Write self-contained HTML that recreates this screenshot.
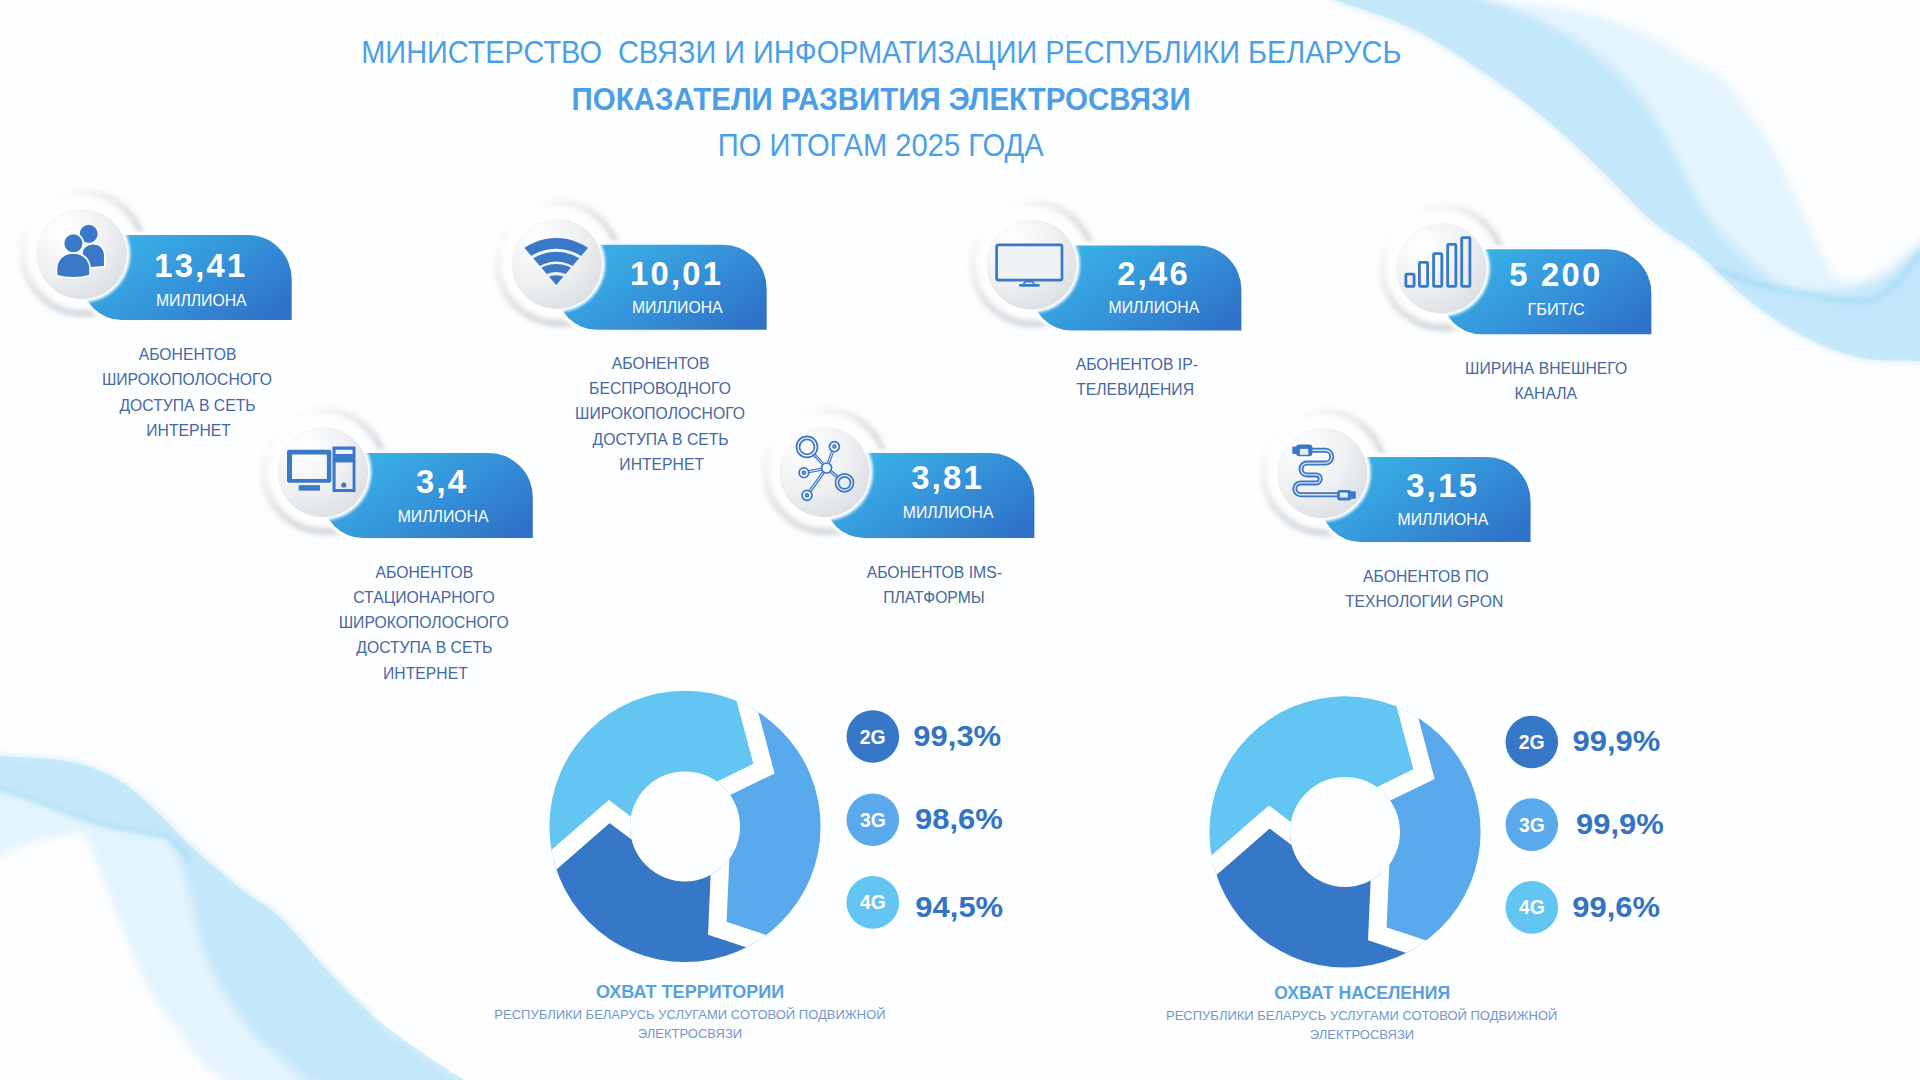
<!DOCTYPE html>
<html lang="ru"><head><meta charset="utf-8"><title>Показатели развития электросвязи</title>
<style>
html,body{margin:0;padding:0;width:1920px;height:1080px;overflow:hidden;background:#fdfeff;}
body{font-family:"Liberation Sans", sans-serif;}
svg{display:block;position:absolute;left:0;top:0;}
</style></head><body>
<svg width="1920" height="1080" viewBox="0 0 1920 1080"><defs>
<linearGradient id="pillg" x1="0.05" y1="0.2" x2="1" y2="0.75">
  <stop offset="0" stop-color="#39b3e7"/>
  <stop offset="0.5" stop-color="#3595da"/>
  <stop offset="1" stop-color="#2f73c8"/>
</linearGradient>
<radialGradient id="sphg" cx="0.3" cy="0.25" r="0.85">
  <stop offset="0" stop-color="#ffffff"/>
  <stop offset="0.55" stop-color="#eef0f2"/>
  <stop offset="1" stop-color="#dcdfe2"/>
</radialGradient>
<linearGradient id="ringg" x1="0.15" y1="0.1" x2="0.85" y2="0.9">
  <stop offset="0" stop-color="#d6d9dc" stop-opacity="0"/>
  <stop offset="0.45" stop-color="#d6d9dc" stop-opacity="0.75"/>
  <stop offset="1" stop-color="#cfd3d6" stop-opacity="1"/>
</linearGradient>
<filter id="blur3" x="-30%" y="-30%" width="160%" height="160%"><feGaussianBlur stdDeviation="2.4"/></filter>
<filter id="blur2" x="-20%" y="-20%" width="140%" height="140%"><feGaussianBlur stdDeviation="1.6"/></filter>
<filter id="blur05" x="-20%" y="-20%" width="140%" height="140%"><feGaussianBlur stdDeviation="0.45"/></filter>
<filter id="blur1" x="-20%" y="-20%" width="140%" height="140%"><feGaussianBlur stdDeviation="0.7"/></filter>
<filter id="wblur" x="-50%" y="-50%" width="200%" height="200%"><feGaussianBlur stdDeviation="6"/></filter>
<filter id="wblur4" x="-50%" y="-50%" width="200%" height="200%"><feGaussianBlur stdDeviation="4"/></filter>
<filter id="wblur2" x="-50%" y="-50%" width="200%" height="200%"><feGaussianBlur stdDeviation="2.5"/></filter>

<linearGradient id="wtr" gradientUnits="userSpaceOnUse" x1="1560" y1="210" x2="1700" y2="40">
  <stop offset="0" stop-color="#8ed3f6" stop-opacity="0.62"/>
  <stop offset="0.5" stop-color="#9ad8f7" stop-opacity="0.45"/>
  <stop offset="1" stop-color="#b5e2f9" stop-opacity="0.12"/>
</linearGradient>
<linearGradient id="wbl" gradientUnits="userSpaceOnUse" x1="300" y1="900" x2="130" y2="1000">
  <stop offset="0" stop-color="#8ed3f6" stop-opacity="0.6"/>
  <stop offset="0.55" stop-color="#9ad8f7" stop-opacity="0.45"/>
  <stop offset="1" stop-color="#b5e2f9" stop-opacity="0.12"/>
</linearGradient>
</defs>
<g id="waves">
<clipPath id="wctr"><path d="M1320.0,-8.0 C1322.5,-6.7 1320.2,-5.8 1335.0,0.0 C1349.8,5.8 1385.5,15.8 1409.0,27.0 C1432.5,38.2 1453.8,52.2 1476.0,67.0 C1498.2,81.8 1521.7,99.3 1542.0,116.0 C1562.3,132.7 1579.5,149.3 1598.0,167.0 C1616.5,184.7 1636.7,207.8 1653.0,222.0 C1669.3,236.2 1679.7,238.7 1696.0,252.0 C1712.3,265.3 1732.5,287.7 1751.0,302.0 C1769.5,316.3 1788.5,328.7 1807.0,338.0 C1825.5,347.3 1843.2,354.2 1862.0,358.0 C1880.8,361.8 1908.7,360.5 1920.0,361.0 C1931.3,361.5 1928.3,361.0 1930.0,361.0 L1940,370 L1940,-20 L1310,-20 Z"/></clipPath>
<g clip-path="url(#wctr)">
<path d="M1320.0,-8.0 C1322.5,-6.7 1320.2,-5.8 1335.0,0.0 C1349.8,5.8 1385.5,15.8 1409.0,27.0 C1432.5,38.2 1453.8,52.2 1476.0,67.0 C1498.2,81.8 1521.7,99.3 1542.0,116.0 C1562.3,132.7 1579.5,149.3 1598.0,167.0 C1616.5,184.7 1636.7,207.8 1653.0,222.0 C1669.3,236.2 1679.7,238.7 1696.0,252.0 C1712.3,265.3 1732.5,287.7 1751.0,302.0 C1769.5,316.3 1788.5,328.7 1807.0,338.0 C1825.5,347.3 1843.2,354.2 1862.0,358.0 C1880.8,361.8 1908.7,360.5 1920.0,361.0 C1931.3,361.5 1928.3,361.0 1930.0,361.0 L1930.0,236.0 C1928.3,236.8 1929.0,234.7 1920.0,241.0 C1911.0,247.3 1889.3,267.5 1876.0,274.0 C1862.7,280.5 1849.7,284.5 1840.0,280.0 C1830.3,275.5 1825.8,261.8 1818.0,247.0 C1810.2,232.2 1801.8,209.5 1793.0,191.0 C1784.2,172.5 1776.7,154.5 1765.0,136.0 C1753.3,117.5 1733.8,91.5 1723.0,80.0 C1712.2,68.5 1713.5,74.8 1700.0,67.0 C1686.5,59.2 1662.7,42.3 1642.0,33.0 C1621.3,23.7 1601.8,16.5 1576.0,11.0 C1550.2,5.5 1504.7,3.2 1487.0,0.0 C1469.3,-3.2 1472.8,-6.7 1470.0,-8.0 Z" fill="#a6dcf7" opacity="0.3" filter="url(#wblur4)"/>
<path d="M1320.0,-8.0 C1322.5,-6.7 1320.2,-5.8 1335.0,0.0 C1349.8,5.8 1385.5,15.8 1409.0,27.0 C1432.5,38.2 1453.8,52.2 1476.0,67.0 C1498.2,81.8 1521.7,99.3 1542.0,116.0 C1562.3,132.7 1579.5,149.3 1598.0,167.0 C1616.5,184.7 1636.7,207.8 1653.0,222.0 C1669.3,236.2 1679.7,238.7 1696.0,252.0 C1712.3,265.3 1732.5,287.7 1751.0,302.0 C1769.5,316.3 1788.5,328.7 1807.0,338.0 C1825.5,347.3 1843.2,354.2 1862.0,358.0 C1880.8,361.8 1908.7,360.5 1920.0,361.0 C1931.3,361.5 1928.3,361.0 1930.0,361.0 L1930.0,240.0 C1928.3,241.2 1929.0,239.8 1920.0,247.0 C1911.0,254.2 1894.8,275.7 1876.0,283.0 C1857.2,290.3 1825.5,292.5 1807.0,291.0 C1788.5,289.5 1781.3,286.0 1765.0,274.0 C1748.7,262.0 1724.0,238.7 1709.0,219.0 C1694.0,199.3 1686.2,175.8 1675.0,156.0 C1663.8,136.2 1654.8,116.7 1642.0,100.0 C1629.2,83.3 1614.7,69.0 1598.0,56.0 C1581.3,43.0 1560.5,31.3 1542.0,22.0 C1523.5,12.7 1499.0,5.0 1487.0,0.0 C1475.0,-5.0 1472.8,-6.7 1470.0,-8.0 Z" fill="#8fd3f6" opacity="0.38" filter="url(#wblur4)"/>
</g>
<path d="M1320.0,-8.0 C1322.5,-6.7 1320.2,-5.8 1335.0,0.0 C1349.8,5.8 1385.5,15.8 1409.0,27.0 C1432.5,38.2 1453.8,52.2 1476.0,67.0 C1498.2,81.8 1521.7,99.3 1542.0,116.0 C1562.3,132.7 1579.5,149.3 1598.0,167.0 C1616.5,184.7 1636.7,207.8 1653.0,222.0 C1669.3,236.2 1679.7,238.7 1696.0,252.0 C1712.3,265.3 1732.5,287.7 1751.0,302.0 C1769.5,316.3 1788.5,328.7 1807.0,338.0 C1825.5,347.3 1843.2,354.2 1862.0,358.0 C1880.8,361.8 1908.7,360.5 1920.0,361.0 C1931.3,361.5 1928.3,361.0 1930.0,361.0" fill="none" stroke="#7ccbf3" stroke-width="4" opacity="0.3" filter="url(#wblur2)"/>
<path d="M1715.0,268.0 C1722.5,270.8 1744.7,280.7 1760.0,285.0 C1775.3,289.3 1790.0,291.2 1807.0,294.0 C1824.0,296.8 1847.3,303.5 1862.0,302.0 C1876.7,300.5 1885.3,293.3 1895.0,285.0 C1904.7,276.7 1915.8,257.5 1920.0,252.0" fill="none" stroke="#7ccbf3" stroke-width="5" opacity="0.35" filter="url(#wblur2)"/>
<clipPath id="wcbl"><path d="M-10.0,756.0 C-8.3,756.0 -13.7,755.0 0.0,756.0 C13.7,757.0 52.0,757.8 72.0,762.0 C92.0,766.2 105.8,772.7 120.0,781.0 C134.2,789.3 144.8,800.8 157.0,812.0 C169.2,823.2 179.0,835.2 193.0,848.0 C207.0,860.8 226.5,877.5 241.0,889.0 C255.5,900.5 265.8,903.7 280.0,917.0 C294.2,930.3 310.7,952.7 326.0,969.0 C341.3,985.3 355.0,1000.5 372.0,1015.0 C389.0,1029.5 412.5,1045.2 428.0,1056.0 C443.5,1066.8 456.3,1074.3 465.0,1080.0 C473.7,1085.7 477.5,1088.3 480.0,1090.0 L480,1100 L-20,1100 L-20,750 Z"/></clipPath>
<g clip-path="url(#wcbl)">
<path d="M-10.0,756.0 C-8.3,756.0 -13.7,755.0 0.0,756.0 C13.7,757.0 52.0,757.8 72.0,762.0 C92.0,766.2 105.8,772.7 120.0,781.0 C134.2,789.3 144.8,800.8 157.0,812.0 C169.2,823.2 179.0,835.2 193.0,848.0 C207.0,860.8 226.5,877.5 241.0,889.0 C255.5,900.5 265.8,903.7 280.0,917.0 C294.2,930.3 310.7,952.7 326.0,969.0 C341.3,985.3 355.0,1000.5 372.0,1015.0 C389.0,1029.5 412.5,1045.2 428.0,1056.0 C443.5,1066.8 456.3,1074.3 465.0,1080.0 C473.7,1085.7 477.5,1088.3 480.0,1090.0 L230.0,1090.0 C229.0,1088.3 228.2,1084.2 224.0,1080.0 C219.8,1075.8 214.0,1075.0 205.0,1065.0 C196.0,1055.0 180.0,1034.0 170.0,1020.0 C160.0,1006.0 153.3,997.5 145.0,981.0 C136.7,964.5 128.2,941.2 120.0,921.0 C111.8,900.8 102.0,874.2 96.0,860.0 C90.0,845.8 88.0,840.3 84.0,836.0 C80.0,831.7 80.0,833.2 72.0,834.0 C64.0,834.8 48.0,837.3 36.0,841.0 C24.0,844.7 7.7,852.8 0.0,856.0 C-7.7,859.2 -8.3,859.3 -10.0,860.0 Z" fill="#a6dcf7" opacity="0.3" filter="url(#wblur4)"/>
<path d="M-10.0,756.0 C-8.3,756.0 -13.7,755.0 0.0,756.0 C13.7,757.0 52.0,757.8 72.0,762.0 C92.0,766.2 105.8,772.7 120.0,781.0 C134.2,789.3 144.8,800.8 157.0,812.0 C169.2,823.2 179.0,835.2 193.0,848.0 C207.0,860.8 226.5,877.5 241.0,889.0 C255.5,900.5 265.8,903.7 280.0,917.0 C294.2,930.3 310.7,952.7 326.0,969.0 C341.3,985.3 355.0,1000.5 372.0,1015.0 C389.0,1029.5 412.5,1045.2 428.0,1056.0 C443.5,1066.8 456.3,1074.3 465.0,1080.0 C473.7,1085.7 477.5,1088.3 480.0,1090.0 L330.0,1090.0 C326.2,1088.3 313.8,1084.2 307.0,1080.0 C300.2,1075.8 299.7,1075.2 289.0,1065.0 C278.3,1054.8 256.5,1037.5 242.6,1019.0 C228.7,1000.5 214.9,977.2 205.6,954.0 C196.3,930.8 193.1,899.0 187.0,880.0 C180.9,861.0 176.0,848.0 169.0,840.0 C162.0,832.0 157.2,835.0 145.0,832.0 C132.8,829.0 114.2,827.3 96.0,822.0 C77.8,816.7 52.0,805.7 36.0,800.0 C20.0,794.3 7.7,790.3 0.0,788.0 C-7.7,785.7 -8.3,786.3 -10.0,786.0 Z" fill="#8fd3f6" opacity="0.38" filter="url(#wblur4)"/>
</g>
<path d="M-10.0,756.0 C-8.3,756.0 -13.7,755.0 0.0,756.0 C13.7,757.0 52.0,757.8 72.0,762.0 C92.0,766.2 105.8,772.7 120.0,781.0 C134.2,789.3 144.8,800.8 157.0,812.0 C169.2,823.2 179.0,835.2 193.0,848.0 C207.0,860.8 226.5,877.5 241.0,889.0 C255.5,900.5 265.8,903.7 280.0,917.0 C294.2,930.3 310.7,952.7 326.0,969.0 C341.3,985.3 364.3,1007.3 372.0,1015.0" fill="none" stroke="#7ccbf3" stroke-width="4" opacity="0.3" filter="url(#wblur2)"/>
<path d="M-10.0,786.0 C-8.3,786.3 -7.7,785.7 0.0,788.0 C7.7,790.3 20.0,794.3 36.0,800.0 C52.0,805.7 77.8,816.7 96.0,822.0 C114.2,827.3 132.8,829.3 145.0,832.0 C157.2,834.7 161.5,833.3 169.0,838.0 C176.5,842.7 186.5,856.3 190.0,860.0" fill="none" stroke="#7ccbf3" stroke-width="5" opacity="0.35" filter="url(#wblur2)"/>
</g>
<text transform="matrix(0.9194,0,0,1,361.29,63)" font-family='"Liberation Sans", sans-serif' font-size="31.44" fill="#4c9fe6" xml:space="preserve">МИНИСТЕРСТВО  СВЯЗИ И ИНФОРМАТИЗАЦИИ РЕСПУБЛИКИ БЕЛАРУСЬ</text>
<text transform="matrix(0.9380,0,0,1,571.58,109.9)" font-family='"Liberation Sans", sans-serif' font-size="31.44" font-weight="bold" fill="#4c9fe6" xml:space="preserve">ПОКАЗАТЕЛИ РАЗВИТИЯ ЭЛЕКТРОСВЯЗИ</text>
<text transform="matrix(0.9412,0,0,1,717.67,155.7)" font-family='"Liberation Sans", sans-serif' font-size="31.00" fill="#4c9fe6" xml:space="preserve">ПО ИТОГАМ 2025 ГОДА</text>
<circle cx="83.19999999999999" cy="253" r="60.5" fill="none" stroke="url(#ringg)" stroke-width="7" filter="url(#blur3)"/>
<path d="M81.69999999999999,235 L247.7,235 A44,44 0 0 1 291.7,279 L291.7,320 L121.69999999999999,320 A40,40 0 0 1 81.69999999999999,280 Z" fill="#ffffff" stroke="#ffffff" stroke-width="7" filter="url(#blur2)"/>
<path d="M81.69999999999999,235 L247.7,235 A44,44 0 0 1 291.7,279 L291.7,320 L121.69999999999999,320 A40,40 0 0 1 81.69999999999999,280 Z" fill="url(#pillg)"/>
<circle cx="81.69999999999999" cy="254" r="48.5" fill="#ffffff" filter="url(#blur2)"/>
<circle cx="81.69999999999999" cy="254" r="45.2" fill="url(#sphg)" filter="url(#blur05)"/>
<g transform="translate(0.19999999999998863,0)" fill="#3a78c8" stroke="#ffffff" stroke-width="1.7"><circle cx="88.5" cy="233.9" r="9.9"/><path d="M81.5,267.5 L81.5,254 C81.5,248 86,243.6 93,243.6 C100.5,243.6 104.6,249 104.6,256 L104.6,266.6 C98,267.8 90,268 81.5,267.5 Z"/><path d="M56.3,275.5 L56.3,269 C56.3,259.5 63,252.8 73,252.8 C83,252.8 89.9,259.5 89.9,269 L89.9,275.5 C80,278.6 66,278.6 56.3,275.5 Z"/><circle cx="73.2" cy="243.3" r="9.9"/></g>
<text transform="matrix(1.0000,0,0,1,154.29,276.7)" font-family='"Liberation Sans", sans-serif' font-size="32.75" font-weight="bold" letter-spacing="2.25" fill="#ffffff" xml:space="preserve">13,41</text>
<text transform="matrix(1.0041,0,0,1,155.89,306)" font-family='"Liberation Sans", sans-serif' font-size="15.72" fill="#ffffff" xml:space="preserve">МИЛЛИОНА</text>
<text transform="matrix(0.9400,0,0,1,138.74,360.0)" font-family='"Liberation Sans", sans-serif' font-size="16.74" fill="#44699f" xml:space="preserve">АБОНЕНТОВ</text>
<text transform="matrix(0.9400,0,0,1,101.88,385.3)" font-family='"Liberation Sans", sans-serif' font-size="16.74" fill="#44699f" xml:space="preserve">ШИРОКОПОЛОСНОГО</text>
<text transform="matrix(0.9400,0,0,1,119.46,410.6)" font-family='"Liberation Sans", sans-serif' font-size="16.74" fill="#44699f" xml:space="preserve">ДОСТУПА В СЕТЬ</text>
<text transform="matrix(0.9400,0,0,1,146.25,435.9)" font-family='"Liberation Sans", sans-serif' font-size="16.74" fill="#44699f" xml:space="preserve">ИНТЕРНЕТ</text>
<circle cx="558.2" cy="262.7" r="60.5" fill="none" stroke="url(#ringg)" stroke-width="7" filter="url(#blur3)"/>
<path d="M556.7,244.7 L722.7,244.7 A44,44 0 0 1 766.7,288.7 L766.7,329.7 L596.7,329.7 A40,40 0 0 1 556.7,289.7 Z" fill="#ffffff" stroke="#ffffff" stroke-width="7" filter="url(#blur2)"/>
<path d="M556.7,244.7 L722.7,244.7 A44,44 0 0 1 766.7,288.7 L766.7,329.7 L596.7,329.7 A40,40 0 0 1 556.7,289.7 Z" fill="url(#pillg)"/>
<circle cx="556.7" cy="263.7" r="48.5" fill="#ffffff" filter="url(#blur2)"/>
<circle cx="556.7" cy="263.7" r="45.2" fill="url(#sphg)" filter="url(#blur05)"/>
<clipPath id="wc556"><path d="M556.2,285.09999999999997 L510.74,231.87 L601.66,231.87 Z"/></clipPath>
<g clip-path="url(#wc556)" fill="#3a78c8">
<path fill-rule="evenodd" d="M499.20000000000005,295.09999999999997 A57,57 0 1 1 613.2,295.09999999999997 A57,57 0 1 1 499.20000000000005,295.09999999999997 Z M509.80000000000007,295.09999999999997 A46.4,46.4 0 1 1 602.6,295.09999999999997 A46.4,46.4 0 1 1 509.80000000000007,295.09999999999997 Z"/>
<path fill-rule="evenodd" d="M512.8000000000001,295.09999999999997 A43.4,43.4 0 1 1 599.6,295.09999999999997 A43.4,43.4 0 1 1 512.8000000000001,295.09999999999997 Z M522.7,295.09999999999997 A33.5,33.5 0 1 1 589.7,295.09999999999997 A33.5,33.5 0 1 1 522.7,295.09999999999997 Z"/>
<path fill-rule="evenodd" d="M525.1,295.09999999999997 A31.1,31.1 0 1 1 587.3000000000001,295.09999999999997 A31.1,31.1 0 1 1 525.1,295.09999999999997 Z M533.2,295.09999999999997 A23,23 0 1 1 579.2,295.09999999999997 A23,23 0 1 1 533.2,295.09999999999997 Z"/>
<circle cx="556.2" cy="295.09999999999997" r="19.9"/>
</g>
<text transform="matrix(1.0000,0,0,1,629.99,284.5)" font-family='"Liberation Sans", sans-serif' font-size="32.75" font-weight="bold" letter-spacing="2.25" fill="#ffffff" xml:space="preserve">10,01</text>
<text transform="matrix(1.0041,0,0,1,631.89,312.7)" font-family='"Liberation Sans", sans-serif' font-size="15.72" fill="#ffffff" xml:space="preserve">МИЛЛИОНА</text>
<text transform="matrix(0.9400,0,0,1,611.84,368.7)" font-family='"Liberation Sans", sans-serif' font-size="16.74" fill="#44699f" xml:space="preserve">АБОНЕНТОВ</text>
<text transform="matrix(0.9400,0,0,1,589.10,394.0)" font-family='"Liberation Sans", sans-serif' font-size="16.74" fill="#44699f" xml:space="preserve">БЕСПРОВОДНОГО</text>
<text transform="matrix(0.9400,0,0,1,574.98,419.3)" font-family='"Liberation Sans", sans-serif' font-size="16.74" fill="#44699f" xml:space="preserve">ШИРОКОПОЛОСНОГО</text>
<text transform="matrix(0.9400,0,0,1,592.56,444.6)" font-family='"Liberation Sans", sans-serif' font-size="16.74" fill="#44699f" xml:space="preserve">ДОСТУПА В СЕТЬ</text>
<text transform="matrix(0.9400,0,0,1,619.35,469.9)" font-family='"Liberation Sans", sans-serif' font-size="16.74" fill="#44699f" xml:space="preserve">ИНТЕРНЕТ</text>
<circle cx="1032.9" cy="263.5" r="60.5" fill="none" stroke="url(#ringg)" stroke-width="7" filter="url(#blur3)"/>
<path d="M1031.4,245.5 L1197.4,245.5 A44,44 0 0 1 1241.4,289.5 L1241.4,330.5 L1071.4,330.5 A40,40 0 0 1 1031.4,290.5 Z" fill="#ffffff" stroke="#ffffff" stroke-width="7" filter="url(#blur2)"/>
<path d="M1031.4,245.5 L1197.4,245.5 A44,44 0 0 1 1241.4,289.5 L1241.4,330.5 L1071.4,330.5 A40,40 0 0 1 1031.4,290.5 Z" fill="url(#pillg)"/>
<circle cx="1031.4" cy="264.5" r="48.5" fill="#ffffff" filter="url(#blur2)"/>
<circle cx="1031.4" cy="264.5" r="45.2" fill="url(#sphg)" filter="url(#blur05)"/>
<g transform="translate(0.0,0.0)" fill="none" stroke="#3a78c8"><rect x="996.6" y="244.9" width="65.4" height="35.2" rx="1.8" stroke-width="2.7" fill="#eef1f4"/><path d="M1025.6,281.6 L1032.2,281.6 L1035.2,285 L1022.6,285 Z" fill="#e6eef6" stroke-width="1.6" stroke-linejoin="round"/><line x1="1020.4" y1="285.4" x2="1038.4" y2="285.4" stroke-width="2.8" stroke-linecap="round"/></g>
<text transform="matrix(1.0000,0,0,1,1117.17,285.3)" font-family='"Liberation Sans", sans-serif' font-size="32.75" font-weight="bold" letter-spacing="2.25" fill="#ffffff" xml:space="preserve">2,46</text>
<text transform="matrix(1.0041,0,0,1,1108.49,313.4)" font-family='"Liberation Sans", sans-serif' font-size="15.72" fill="#ffffff" xml:space="preserve">МИЛЛИОНА</text>
<text transform="matrix(0.9400,0,0,1,1075.72,370.0)" font-family='"Liberation Sans", sans-serif' font-size="16.74" fill="#44699f" xml:space="preserve">АБОНЕНТОВ IP-</text>
<text transform="matrix(0.9400,0,0,1,1076.16,395.3)" font-family='"Liberation Sans", sans-serif' font-size="16.74" fill="#44699f" xml:space="preserve">ТЕЛЕВИДЕНИЯ</text>
<circle cx="1442.9" cy="267.2" r="60.5" fill="none" stroke="url(#ringg)" stroke-width="7" filter="url(#blur3)"/>
<path d="M1441.4,249.2 L1607.4,249.2 A44,44 0 0 1 1651.4,293.2 L1651.4,334.2 L1481.4,334.2 A40,40 0 0 1 1441.4,294.2 Z" fill="#ffffff" stroke="#ffffff" stroke-width="7" filter="url(#blur2)"/>
<path d="M1441.4,249.2 L1607.4,249.2 A44,44 0 0 1 1651.4,293.2 L1651.4,334.2 L1481.4,334.2 A40,40 0 0 1 1441.4,294.2 Z" fill="url(#pillg)"/>
<circle cx="1441.4" cy="268.2" r="48.5" fill="#ffffff" filter="url(#blur2)"/>
<circle cx="1441.4" cy="268.2" r="45.2" fill="url(#sphg)" filter="url(#blur05)"/>
<g transform="translate(0.0,0.0)" fill="none" stroke="#3a78c8" stroke-width="2.8"><rect x="1405.9" y="274.09999999999997" width="8.2" height="12.3" rx="1"/><rect x="1419.4" y="262.4" width="8.2" height="24.0" rx="1"/><rect x="1433.6000000000001" y="253.70000000000002" width="8.2" height="32.7" rx="1"/><rect x="1447.65" y="244.4" width="8.2" height="42.0" rx="1"/><rect x="1461.7" y="237.65" width="8.2" height="48.8" rx="1"/></g>
<text transform="matrix(1.0000,0,0,1,1509.22,286)" font-family='"Liberation Sans", sans-serif' font-size="32.75" font-weight="bold" letter-spacing="2.25" fill="#ffffff" xml:space="preserve">5 200</text>
<text transform="matrix(1.0353,0,0,1,1527.45,314.8)" font-family='"Liberation Sans", sans-serif' font-size="15.72" fill="#ffffff" xml:space="preserve">ГБИТ/С</text>
<text transform="matrix(0.9400,0,0,1,1465.01,374.0)" font-family='"Liberation Sans", sans-serif' font-size="16.74" fill="#44699f" xml:space="preserve">ШИРИНА ВНЕШНЕГО</text>
<text transform="matrix(0.9400,0,0,1,1514.46,399.3)" font-family='"Liberation Sans", sans-serif' font-size="16.74" fill="#44699f" xml:space="preserve">КАНАЛА</text>
<circle cx="324.29999999999995" cy="471" r="60.5" fill="none" stroke="url(#ringg)" stroke-width="7" filter="url(#blur3)"/>
<path d="M322.79999999999995,453 L488.79999999999995,453 A44,44 0 0 1 532.8,497 L532.8,538 L362.79999999999995,538 A40,40 0 0 1 322.79999999999995,498 Z" fill="#ffffff" stroke="#ffffff" stroke-width="7" filter="url(#blur2)"/>
<path d="M322.79999999999995,453 L488.79999999999995,453 A44,44 0 0 1 532.8,497 L532.8,538 L362.79999999999995,538 A40,40 0 0 1 322.79999999999995,498 Z" fill="url(#pillg)"/>
<circle cx="322.79999999999995" cy="472" r="48.5" fill="#ffffff" filter="url(#blur2)"/>
<circle cx="322.79999999999995" cy="472" r="45.2" fill="url(#sphg)" filter="url(#blur05)"/>
<g transform="translate(-5.684341886080802e-14,0)" fill="#3a78c8"><path fill-rule="evenodd" d="M289,449.7 L329.3,449.7 Q331.3,449.7 331.3,451.7 L331.3,480.8 Q331.3,482.8 329.3,482.8 L289,482.8 Q287,482.8 287,480.8 L287,451.7 Q287,449.7 289,449.7 Z M292,454.4 L326.9,454.4 L326.9,478.9 L292,478.9 Z"/><rect x="298.8" y="485.2" width="21.2" height="5.4"/><path fill-rule="evenodd" d="M332.5,446.6 L355.5,446.6 L355.5,491.9 L332.5,491.9 Z M335.6,449.7 L352.6,449.7 L352.6,454 L335.6,454 Z M335.6,462.5 L352.6,462.5 L352.6,489 L335.6,489 Z"/><circle cx="343.8" cy="485" r="2.6"/></g>
<text transform="matrix(1.0000,0,0,1,416.06,493)" font-family='"Liberation Sans", sans-serif' font-size="32.75" font-weight="bold" letter-spacing="2.25" fill="#ffffff" xml:space="preserve">3,4</text>
<text transform="matrix(1.0041,0,0,1,397.69,521.9)" font-family='"Liberation Sans", sans-serif' font-size="15.72" fill="#ffffff" xml:space="preserve">МИЛЛИОНА</text>
<text transform="matrix(0.9400,0,0,1,375.54,577.5)" font-family='"Liberation Sans", sans-serif' font-size="16.74" fill="#44699f" xml:space="preserve">АБОНЕНТОВ</text>
<text transform="matrix(0.9400,0,0,1,353.27,602.8)" font-family='"Liberation Sans", sans-serif' font-size="16.74" fill="#44699f" xml:space="preserve">СТАЦИОНАРНОГО</text>
<text transform="matrix(0.9400,0,0,1,338.68,628.1)" font-family='"Liberation Sans", sans-serif' font-size="16.74" fill="#44699f" xml:space="preserve">ШИРОКОПОЛОСНОГО</text>
<text transform="matrix(0.9400,0,0,1,356.26,653.4)" font-family='"Liberation Sans", sans-serif' font-size="16.74" fill="#44699f" xml:space="preserve">ДОСТУПА В СЕТЬ</text>
<text transform="matrix(0.9400,0,0,1,383.05,678.7)" font-family='"Liberation Sans", sans-serif' font-size="16.74" fill="#44699f" xml:space="preserve">ИНТЕРНЕТ</text>
<circle cx="825.9000000000001" cy="471.1" r="60.5" fill="none" stroke="url(#ringg)" stroke-width="7" filter="url(#blur3)"/>
<path d="M824.4000000000001,453.1 L990.4000000000001,453.1 A44,44 0 0 1 1034.4,497.1 L1034.4,538.1 L864.4000000000001,538.1 A40,40 0 0 1 824.4000000000001,498.1 Z" fill="#ffffff" stroke="#ffffff" stroke-width="7" filter="url(#blur2)"/>
<path d="M824.4000000000001,453.1 L990.4000000000001,453.1 A44,44 0 0 1 1034.4,497.1 L1034.4,538.1 L864.4000000000001,538.1 A40,40 0 0 1 824.4000000000001,498.1 Z" fill="url(#pillg)"/>
<circle cx="824.4000000000001" cy="472.1" r="48.5" fill="#ffffff" filter="url(#blur2)"/>
<circle cx="824.4000000000001" cy="472.1" r="45.2" fill="url(#sphg)" filter="url(#blur05)"/>
<g transform="translate(1.1368683772161603e-13,0.0)" fill="none" stroke="#3a78c8" stroke-width="1.7"><line x1="822.86" y1="463.97" x2="814.15" y2="454.59" stroke-width="3.2"/><line x1="828.48" y1="462.83" x2="832.69" y2="451.30" stroke-width="3.2"/><line x1="821.21" y1="469.12" x2="808.60" y2="471.73" stroke-width="3.2"/><line x1="830.84" y1="471.50" x2="837.56" y2="477.07" stroke-width="3.2"/><line x1="823.39" y1="472.47" x2="809.92" y2="491.24" stroke-width="3.2"/></g><g transform="translate(1.1368683772161603e-13,0.0)" fill="none" stroke="#eef0f2" stroke-width="1"><line x1="822.86" y1="463.97" x2="814.15" y2="454.59"/><line x1="828.48" y1="462.83" x2="832.69" y2="451.30"/><line x1="821.21" y1="469.12" x2="808.60" y2="471.73"/><line x1="830.84" y1="471.50" x2="837.56" y2="477.07"/><line x1="823.39" y1="472.47" x2="809.92" y2="491.24"/></g><g transform="translate(1.1368683772161603e-13,0.0)" fill="none" stroke="#3a78c8" stroke-width="1.7"><circle cx="826.6" cy="468" r="5"/><circle cx="807" cy="446.9" r="10.5"/><circle cx="807" cy="446.9" r="7.5"/><circle cx="834.4" cy="446.6" r="5"/><circle cx="834.4" cy="446.6" r="1.4"/><circle cx="803.9" cy="472.7" r="4.8"/><circle cx="803.9" cy="472.7" r="1.4"/><circle cx="844.5" cy="482.8" r="9"/><circle cx="844.5" cy="482.8" r="6"/><circle cx="807" cy="495.3" r="5"/><circle cx="807" cy="495.3" r="1.4"/></g>
<text transform="matrix(1.0000,0,0,1,911.17,489)" font-family='"Liberation Sans", sans-serif' font-size="32.75" font-weight="bold" letter-spacing="2.25" fill="#ffffff" xml:space="preserve">3,81</text>
<text transform="matrix(1.0041,0,0,1,902.79,518)" font-family='"Liberation Sans", sans-serif' font-size="15.72" fill="#ffffff" xml:space="preserve">МИЛЛИОНА</text>
<text transform="matrix(0.9400,0,0,1,866.65,577.6)" font-family='"Liberation Sans", sans-serif' font-size="16.74" fill="#44699f" xml:space="preserve">АБОНЕНТОВ IMS-</text>
<text transform="matrix(0.9400,0,0,1,883.22,602.9)" font-family='"Liberation Sans", sans-serif' font-size="16.74" fill="#44699f" xml:space="preserve">ПЛАТФОРМЫ</text>
<circle cx="1323.8" cy="472" r="60.5" fill="none" stroke="url(#ringg)" stroke-width="7" filter="url(#blur3)"/>
<path d="M1320.6,457 L1486.6,457 A44,44 0 0 1 1530.6,501 L1530.6,542 L1360.6,542 A40,40 0 0 1 1320.6,502 Z" fill="#ffffff" stroke="#ffffff" stroke-width="7" filter="url(#blur2)"/>
<path d="M1320.6,457 L1486.6,457 A44,44 0 0 1 1530.6,501 L1530.6,542 L1360.6,542 A40,40 0 0 1 1320.6,502 Z" fill="url(#pillg)"/>
<circle cx="1322.3" cy="473" r="48.5" fill="#ffffff" filter="url(#blur2)"/>
<circle cx="1322.3" cy="473" r="45.2" fill="url(#sphg)" filter="url(#blur05)"/>
<g transform="translate(0.0,0)"><path d="M1312,450.3 L1325.4,450.3 A6.4,6.4 0 0 1 1325.4,463.1 L1306.9,463.1 A5.9,5.9 0 0 0 1306.9,474.9 L1316.3,474.9 A4,4 0 0 1 1316.3,482.9 L1300.7,482.9 A5.9,5.9 0 0 0 1300.7,494.7 L1338,494.7" fill="none" stroke="#3a78c8" stroke-width="5"/><path d="M1312,450.3 L1325.4,450.3 A6.4,6.4 0 0 1 1325.4,463.1 L1306.9,463.1 A5.9,5.9 0 0 0 1306.9,474.9 L1316.3,474.9 A4,4 0 0 1 1316.3,482.9 L1300.7,482.9 A5.9,5.9 0 0 0 1300.7,494.7 L1338,494.7" fill="none" stroke="#dbe6f2" stroke-width="1.4"/><rect x="1292.3" y="446.5" width="5" height="7.6" rx="1" fill="#3a78c8"/><rect x="1296.1" y="444.4" width="16.3" height="11.8" rx="3" fill="#3a78c8"/><rect x="1299.9" y="448.9" width="8.4" height="5.9" fill="#e8edf3"/><rect x="1337.1" y="489.9" width="14.6" height="10.7" rx="3" fill="#3a78c8"/><rect x="1351" y="491.25" width="4.8" height="7.6" rx="1" fill="#3a78c8"/><rect x="1339.9" y="492.6" width="7.9" height="4.9" fill="#e8edf3"/></g>
<text transform="matrix(1.0000,0,0,1,1406.37,496.9)" font-family='"Liberation Sans", sans-serif' font-size="32.75" font-weight="bold" letter-spacing="2.25" fill="#ffffff" xml:space="preserve">3,15</text>
<text transform="matrix(1.0041,0,0,1,1397.49,525)" font-family='"Liberation Sans", sans-serif' font-size="15.72" fill="#ffffff" xml:space="preserve">МИЛЛИОНА</text>
<text transform="matrix(0.9400,0,0,1,1363.03,581.8)" font-family='"Liberation Sans", sans-serif' font-size="16.74" fill="#44699f" xml:space="preserve">АБОНЕНТОВ ПО</text>
<text transform="matrix(0.9400,0,0,1,1344.90,607.1)" font-family='"Liberation Sans", sans-serif' font-size="16.74" fill="#44699f" xml:space="preserve">ТЕХНОЛОГИИ GPON</text>
<clipPath id="ann1"><path fill-rule="evenodd" d="M549.4,826.4 A135.6,135.6 0 1 1 820.6,826.4 A135.6,135.6 0 1 1 549.4,826.4 Z M630,826.4 A55,55 0 1 0 740,826.4 A55,55 0 1 0 630,826.4 Z"/></clipPath>
<g clip-path="url(#ann1)">
<path d="M685.00,826.40 L639.26,834.18 L609.30,811.50 L524.70,885.15 L204.10,1002.65 L525.93,689.23 L847.75,375.80 L739.25,676.20 L764.00,768.60 L708.84,795.48 Z" fill="#63c5f1"/>
<path d="M685.00,826.40 L708.84,795.48 L764.00,768.60 L739.25,676.20 L847.75,375.80 L902.35,782.90 L956.95,1190.00 L775.65,947.60 L717.30,928.40 L721.08,842.02 Z" fill="#5aa9ec"/>
<path d="M685.00,826.40 L721.08,842.02 L717.30,928.40 L775.65,947.60 L956.95,1190.00 L580.53,1096.33 L204.10,1002.65 L524.70,885.15 L609.30,811.50 L639.26,834.18 Z" fill="#3677c7"/>
<path d="M739.25,676.20 L764.00,768.60 L708.84,795.48" fill="none" stroke="#ffffff" stroke-width="18" stroke-linejoin="miter" stroke-miterlimit="10"/>
<path d="M775.65,947.60 L717.30,928.40 L721.08,842.02" fill="none" stroke="#ffffff" stroke-width="18" stroke-linejoin="miter" stroke-miterlimit="10"/>
<path d="M524.70,885.15 L609.30,811.50 L639.26,834.18" fill="none" stroke="#ffffff" stroke-width="18" stroke-linejoin="miter" stroke-miterlimit="10"/>
</g>
<clipPath id="ann2"><path fill-rule="evenodd" d="M1209.4,831.9 A135.6,135.6 0 1 1 1480.6,831.9 A135.6,135.6 0 1 1 1209.4,831.9 Z M1290,831.9 A55,55 0 1 0 1400,831.9 A55,55 0 1 0 1290,831.9 Z"/></clipPath>
<g clip-path="url(#ann2)">
<path d="M1345.00,831.90 L1299.26,839.68 L1269.30,817.00 L1184.70,890.65 L864.10,1008.15 L1185.92,694.73 L1507.75,381.30 L1399.25,681.70 L1424.00,774.10 L1368.84,800.98 Z" fill="#63c5f1"/>
<path d="M1345.00,831.90 L1368.84,800.98 L1424.00,774.10 L1399.25,681.70 L1507.75,381.30 L1562.35,788.40 L1616.95,1195.50 L1435.65,953.10 L1377.30,933.90 L1381.08,847.52 Z" fill="#5aa9ec"/>
<path d="M1345.00,831.90 L1381.08,847.52 L1377.30,933.90 L1435.65,953.10 L1616.95,1195.50 L1240.53,1101.83 L864.10,1008.15 L1184.70,890.65 L1269.30,817.00 L1299.26,839.68 Z" fill="#3677c7"/>
<path d="M1399.25,681.70 L1424.00,774.10 L1368.84,800.98" fill="none" stroke="#ffffff" stroke-width="18" stroke-linejoin="miter" stroke-miterlimit="10"/>
<path d="M1435.65,953.10 L1377.30,933.90 L1381.08,847.52" fill="none" stroke="#ffffff" stroke-width="18" stroke-linejoin="miter" stroke-miterlimit="10"/>
<path d="M1184.70,890.65 L1269.30,817.00 L1299.26,839.68" fill="none" stroke="#ffffff" stroke-width="18" stroke-linejoin="miter" stroke-miterlimit="10"/>
</g>
<circle cx="872.8" cy="736.5" r="26.3" fill="#3677c7"/>
<text transform="matrix(0.9200,0,0,1,859.83,743.8)" font-family='"Liberation Sans", sans-serif' font-size="21.11" font-weight="bold" fill="#ffffff" xml:space="preserve">2G</text>
<text transform="matrix(1.0488,0,0,1,913.32,745.6)" font-family='"Liberation Sans", sans-serif' font-size="29.55" font-weight="bold" fill="#3473c3" xml:space="preserve">99,3%</text>
<circle cx="872.8" cy="819.7" r="26.3" fill="#5aa9ec"/>
<text transform="matrix(0.9200,0,0,1,859.93,826.7)" font-family='"Liberation Sans", sans-serif' font-size="21.11" font-weight="bold" fill="#ffffff" xml:space="preserve">3G</text>
<text transform="matrix(1.0488,0,0,1,914.92,829.4)" font-family='"Liberation Sans", sans-serif' font-size="29.55" font-weight="bold" fill="#3473c3" xml:space="preserve">98,6%</text>
<circle cx="872.8" cy="902.4" r="26.3" fill="#63c5f1"/>
<text transform="matrix(0.9200,0,0,1,860.02,909.2)" font-family='"Liberation Sans", sans-serif' font-size="21.11" font-weight="bold" fill="#ffffff" xml:space="preserve">4G</text>
<text transform="matrix(1.0488,0,0,1,915.32,916.7)" font-family='"Liberation Sans", sans-serif' font-size="29.55" font-weight="bold" fill="#3473c3" xml:space="preserve">94,5%</text>
<circle cx="1531.8" cy="742" r="26.3" fill="#3677c7"/>
<text transform="matrix(0.9200,0,0,1,1518.83,748.9)" font-family='"Liberation Sans", sans-serif' font-size="21.11" font-weight="bold" fill="#ffffff" xml:space="preserve">2G</text>
<text transform="matrix(1.0488,0,0,1,1572.52,751)" font-family='"Liberation Sans", sans-serif' font-size="29.55" font-weight="bold" fill="#3473c3" xml:space="preserve">99,9%</text>
<circle cx="1531.8" cy="824.6" r="26.3" fill="#5aa9ec"/>
<text transform="matrix(0.9200,0,0,1,1518.93,831.5)" font-family='"Liberation Sans", sans-serif' font-size="21.11" font-weight="bold" fill="#ffffff" xml:space="preserve">3G</text>
<text transform="matrix(1.0488,0,0,1,1575.92,833.6)" font-family='"Liberation Sans", sans-serif' font-size="29.55" font-weight="bold" fill="#3473c3" xml:space="preserve">99,9%</text>
<circle cx="1531.8" cy="907.4" r="26.3" fill="#63c5f1"/>
<text transform="matrix(0.9200,0,0,1,1519.02,914)" font-family='"Liberation Sans", sans-serif' font-size="21.11" font-weight="bold" fill="#ffffff" xml:space="preserve">4G</text>
<text transform="matrix(1.0488,0,0,1,1572.22,917)" font-family='"Liberation Sans", sans-serif' font-size="29.55" font-weight="bold" fill="#3473c3" xml:space="preserve">99,6%</text>
<text transform="matrix(0.9680,0,0,1,595.98,997.9)" font-family='"Liberation Sans", sans-serif' font-size="18.63" font-weight="bold" fill="#5a9fdf" xml:space="preserve">ОХВАТ ТЕРРИТОРИИ</text>
<text x="690" y="1018.8" text-anchor="middle" font-family='"Liberation Sans", sans-serif' font-size="13" fill="#7497c9">РЕСПУБЛИКИ БЕЛАРУСЬ УСЛУГАМИ СОТОВОЙ ПОДВИЖНОЙ</text>
<text x="690" y="1037.6" text-anchor="middle" font-family='"Liberation Sans", sans-serif' font-size="13" fill="#7497c9">ЭЛЕКТРОСВЯЗИ</text>
<text transform="matrix(0.9462,0,0,1,1274.29,999.2)" font-family='"Liberation Sans", sans-serif' font-size="18.63" font-weight="bold" fill="#5a9fdf" xml:space="preserve">ОХВАТ НАСЕЛЕНИЯ</text>
<text x="1361.7" y="1020.3" text-anchor="middle" font-family='"Liberation Sans", sans-serif' font-size="13" fill="#7497c9">РЕСПУБЛИКИ БЕЛАРУСЬ УСЛУГАМИ СОТОВОЙ ПОДВИЖНОЙ</text>
<text x="1362" y="1038.8" text-anchor="middle" font-family='"Liberation Sans", sans-serif' font-size="13" fill="#7497c9">ЭЛЕКТРОСВЯЗИ</text>
</svg>
</body></html>
